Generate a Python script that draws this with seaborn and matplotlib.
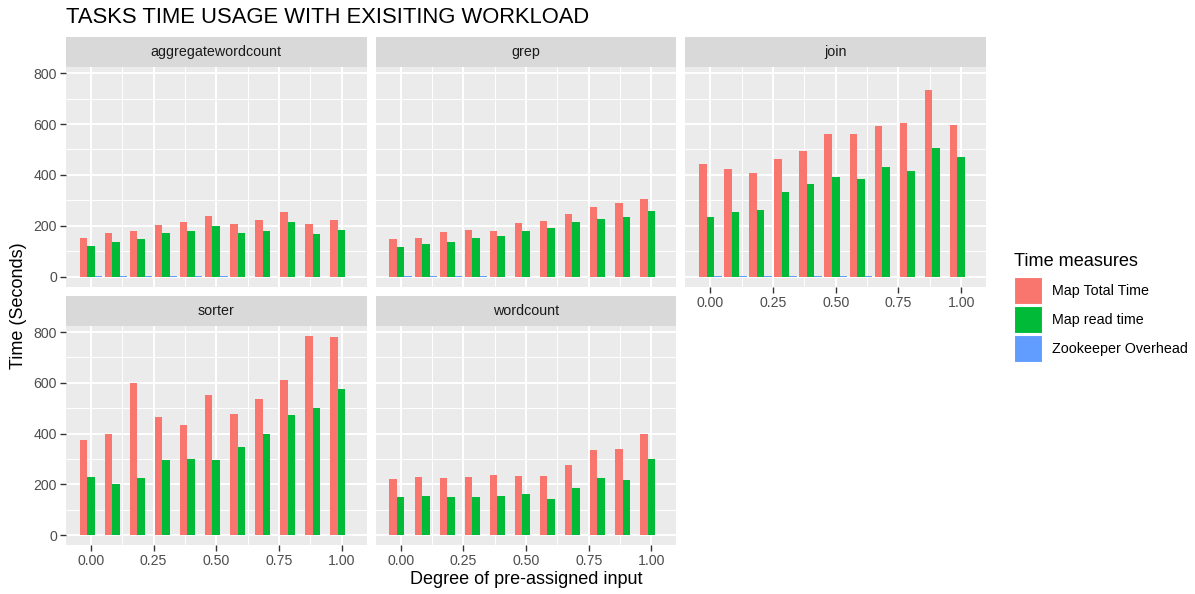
import numpy as np
import pandas as pd
import matplotlib
matplotlib.use("Agg")
import matplotlib.pyplot as plt
from matplotlib.patches import Rectangle
import seaborn as sns

# ---- data -------------------------------------------------------------
degrees = [0.0, 0.1, 0.2, 0.3, 0.4, 0.5, 0.6, 0.7, 0.8, 0.9, 1.0]
tasks = ["aggregatewordcount", "grep", "join", "sorter", "wordcount"]
measures = ["Map Total Time", "Map read time", "Zookeeper Overhead"]

aggregatewordcount_total = [151, 173, 178, 205, 215, 237, 207, 222, 253, 207, 222]
aggregatewordcount_read = [122, 138, 147, 173, 181, 198, 173, 181, 214, 167, 184]
aggregatewordcount_zk = [2, 2, 2, 2, 2, 2, 0, 0, 0, 0, 0]

grep_total = [147, 153, 174, 184, 181, 210, 220, 247, 273, 289, 306]
grep_read = [115, 127, 138, 152, 159, 178, 193, 216, 226, 233, 260]
grep_zk = [2, 2, 2, 2, 0, 0, 0, 0, 0, 0, 0]

join_total = [442, 422, 408, 463, 493, 559, 561, 593, 605, 734, 597]
join_read = [233, 253, 261, 334, 365, 392, 383, 433, 417, 506, 471]
join_zk = [2, 2, 2, 2, 2, 2, 2, 0, 0, 0, 0]

sorter_total = [376, 399, 598, 466, 433, 553, 479, 537, 613, 786, 782]
sorter_read = [227, 201, 225, 296, 300, 296, 349, 399, 472, 499, 575]
sorter_zk = [2, 2, 2, 0, 0, 0, 0, 0, 0, 0, 0]

wordcount_total = [222, 227, 225, 230, 235, 233, 233, 278, 334, 338, 398]
wordcount_read = [148, 152, 148, 150, 152, 162, 144, 185, 223, 215, 301]
wordcount_zk = [2, 2, 0, 0, 0, 0, 0, 0, 0, 0, 0]

series = {
    "aggregatewordcount": (aggregatewordcount_total, aggregatewordcount_read, aggregatewordcount_zk),
    "grep": (grep_total, grep_read, grep_zk),
    "join": (join_total, join_read, join_zk),
    "sorter": (sorter_total, sorter_read, sorter_zk),
    "wordcount": (wordcount_total, wordcount_read, wordcount_zk),
}

rows = []
for task in tasks:
    for measure, values in zip(measures, series[task]):
        for d, v in zip(degrees, values):
            rows.append({"task": task, "measure": measure, "degree": d, "seconds": v})
df = pd.DataFrame(rows)

colors = ["#F8766D", "#00BA38", "#619CFF"]

# ---- style ------------------------------------------------------------
sns.set_theme(style="darkgrid", rc={
    "axes.facecolor": "#EBEBEB",
    "grid.color": "white",
    "axes.edgecolor": "none",
})
plt.rcParams["font.family"] = ["Liberation Sans", "DejaVu Sans"]

W, H = 1195, 594
fig = plt.figure(figsize=(W / 100, H / 100), dpi=100)
fig.patch.set_facecolor("white")


def frac(l, t, r, b):
    return [l / W, 1 - b / H, (r - l) / W, (b - t) / H]


col_left = [66.0, 375.8, 685.5]
panel_w = 300.5
row_panel = [(66.7, 286.7), (325.7, 545.0)]
strip_h = 29.4

ymax = df["seconds"].max()
ylim = (-0.05 * ymax, 1.05 * ymax)
span = (degrees[-1] - degrees[0]) + 0.09
xlim = (degrees[0] - 0.045 - 0.05 * span, degrees[-1] + 0.045 + 0.05 * span)

tick_col = "#333333"
lab_col = "#4D4D4D"

for i, task in enumerate(tasks):
    r, c = divmod(i, 3)
    l = col_left[c]
    t, b = row_panel[r]
    ax = fig.add_axes(frac(l, t, l + panel_w, b))
    sub = df[df["task"] == task]
    sns.barplot(data=sub, x="degree", y="seconds", hue="measure",
                hue_order=measures, palette=colors, native_scale=True,
                width=0.9, errorbar=None, linewidth=0, saturation=1,
                legend=False, ax=ax, zorder=3)
    ax.set_xlim(*xlim)
    ax.set_ylim(*ylim)
    ax.set_xticks([0, 0.25, 0.5, 0.75, 1.0])
    ax.set_xticks([0.125, 0.375, 0.625, 0.875], minor=True)
    ax.set_yticks([0, 200, 400, 600, 800])
    ax.set_yticks([100, 300, 500, 700], minor=True)
    ax.grid(True, which="major", color="white", linewidth=1.4, zorder=0)
    ax.grid(True, which="minor", color="white", linewidth=0.7, zorder=0)
    ax.set_axisbelow(True)
    ax.set_xlabel("")
    ax.set_ylabel("")
    for s in ax.spines.values():
        s.set_visible(False)

    show_x = task in ("join", "sorter", "wordcount")
    show_y = c == 0
    ax.tick_params(axis="x", which="major", bottom=show_x, labelbottom=show_x,
                   length=4, width=1, color=tick_col, labelcolor=lab_col,
                   labelsize=10.2, pad=2.5)
    ax.tick_params(axis="y", which="major", left=show_y, labelleft=show_y,
                   length=4, width=1, color=tick_col, labelcolor=lab_col,
                   labelsize=10.2, pad=2.5)
    ax.tick_params(which="minor", length=0)
    ax.xaxis.set_major_formatter(matplotlib.ticker.FormatStrFormatter("%.2f"))

    # facet strip
    sax = fig.add_axes(frac(l, t - strip_h, l + panel_w, t))
    sax.set_facecolor("#D9D9D9")
    sax.set_xticks([])
    sax.set_yticks([])
    sax.grid(False)
    for s in sax.spines.values():
        s.set_visible(False)
    sax.text(0.5, 0.5, task, ha="center", va="center", fontsize=10.3,
             color="#1A1A1A", transform=sax.transAxes)

# ---- titles -------------------------------------------------------------
fig.text(66.5 / W, 1 - 23.3 / H, "TASKS TIME USAGE WITH EXISITING WORKLOAD",
         ha="left", va="baseline", fontsize=15.8, color="black")
fig.text(526 / W, 1 - 580 / H, "Degree of pre-assigned input",
         ha="center", va="center", fontsize=13, color="black")
fig.text(18.5 / W, 1 - 306 / H, "Time (Seconds)", rotation=90,
         ha="center", va="center", fontsize=13, color="black")

# ---- legend -------------------------------------------------------------
fig.text(1014 / W, 1 - 265.7 / H, "Time measures", ha="left",
         va="baseline", fontsize=13.1, color="black")
key_tops = [277.3, 306.3, 335.3]
for top, name, col in zip(key_tops, measures, colors):
    fig.add_artist(Rectangle((1014 / W, 1 - (top + 27) / H), 27.7 / W, 27 / H,
                             transform=fig.transFigure, facecolor=col,
                             edgecolor="white", linewidth=0.8))
    fig.text(1051.7 / W, 1 - (top + 14) / H, name, ha="left", va="center",
             fontsize=10.3, color="black")

fig.savefig("out.png", dpi=100)
